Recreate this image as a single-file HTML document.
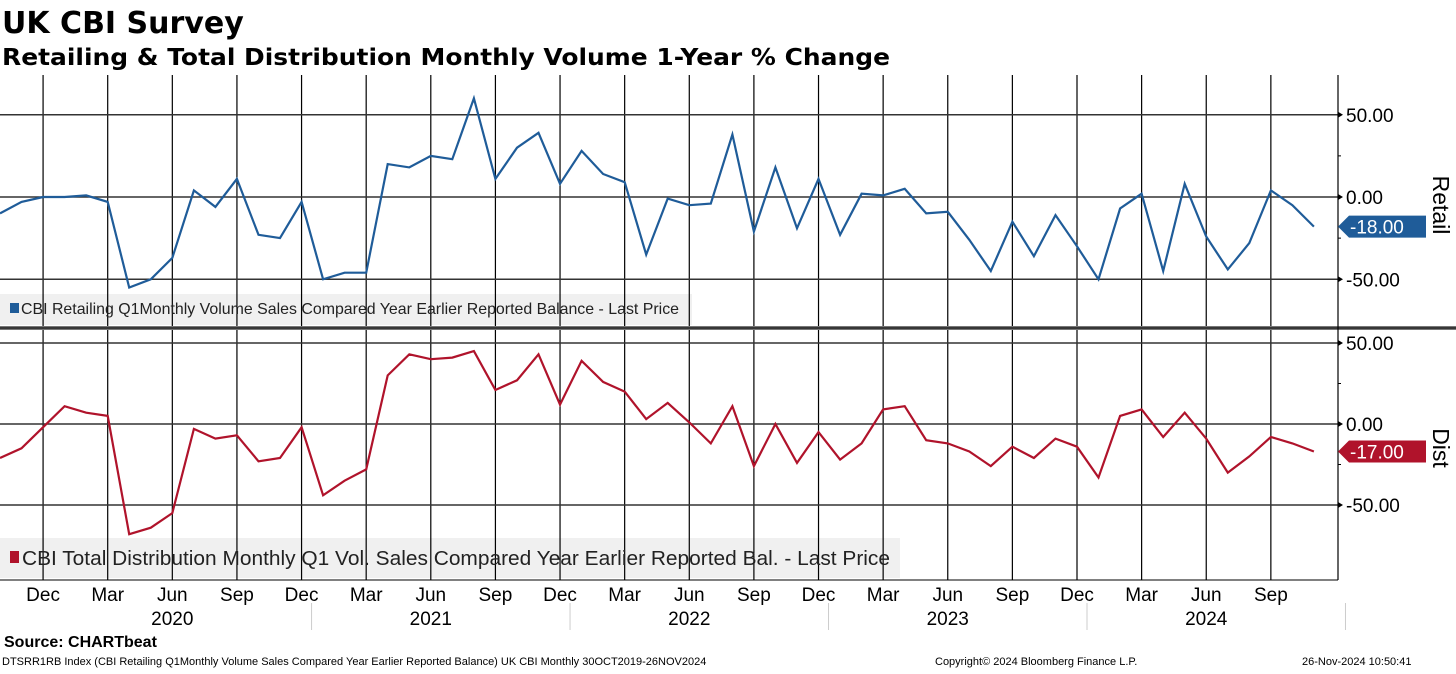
<!DOCTYPE html>
<html><head><meta charset="utf-8">
<style>
body{margin:0;background:#fff;width:1456px;height:669px;overflow:hidden;font-family:"Liberation Sans",sans-serif}
svg text{font-family:"Liberation Sans",sans-serif}
</style></head>
<body>
<svg id="chart" width="1456" height="669" viewBox="0 0 1456 669" xmlns="http://www.w3.org/2000/svg">
<text x="2" y="33" font-size="30" font-weight="bold" style="font-family:'DejaVu Sans',sans-serif">UK CBI Survey</text>
<text x="2" y="65" font-size="23" font-weight="bold" style="font-family:'DejaVu Sans',sans-serif" textLength="888" lengthAdjust="spacingAndGlyphs">Retailing &amp; Total Distribution Monthly Volume 1-Year % Change</text>
<g id="grid"></g>
<g id="series"></g>
<g id="axes"></g>
<text x="4" y="647" font-size="16" font-weight="bold">Source: CHARTbeat</text>
<text x="2" y="665" font-size="11">DTSRR1RB Index (CBI Retailing Q1Monthly Volume Sales Compared Year Earlier Reported Balance) UK CBI  Monthly 30OCT2019-26NOV2024</text>
<text x="935" y="665" font-size="11">Copyright© 2024 Bloomberg Finance L.P.</text>
<text x="1302" y="665" font-size="11">26-Nov-2024 10:50:41</text>
</svg>
<script>
const retail = [-10,-3,0,0,1,-3,-55,-50,-37,4,-6,11,-23,-25,-3,-50,-46,-46,20,18,25,23,60,11,30,39,8,28,14,9,-35,-1,-5,-4,38,-21,18,-19,11,-23,2,1,5,-10,-9,-26,-45,-15,-36,-11,-30,-50,-7,2,-45,8,-24,-44,-28,4,-5,-18];
const dist = [-21,-15,-2,11,7,5,-68,-64,-55,-3,-9,-7,-23,-21,-2,-44,-35,-28,30,43,40,41,45,21,27,43,12,39,26,20,3,13,1,-12,11,-26,0,-24,-5,-22,-12,9,11,-10,-12,-17,-26,-14,-21,-9,-14,-33,5,9,-8,7,-9,-30,-20,-8,-12,-17];
const yTicks = [50,0,-50];
const monthLabels = ["Dec","Mar","Jun","Sep","Dec","Mar","Jun","Sep","Dec","Mar","Jun","Sep","Dec","Mar","Jun","Sep","Dec","Mar","Jun","Sep"];
const yearLabels = ["2020","2021","2022","2023","2024"];
const retailLast = "-18.00";
const distLast = "-17.00";

const NS="http://www.w3.org/2000/svg";
function mk(tag,attrs,parent,txt){const e=document.createElementNS(NS,tag);for(const k in attrs)e.setAttribute(k,attrs[k]);if(txt!==undefined)e.textContent=txt;parent.appendChild(e);return e;}
const xStep=21.54;
const xs=i=>i*xStep;
const yTop=v=>197-v*1.645;
const yBot=v=>424-v*1.62;
const grid=document.getElementById('grid'),ser=document.getElementById('series'),ax=document.getElementById('axes');

let lg1=mk('rect',{x:0,y:294,width:692,height:31,fill:'#f0f0f0'},grid);


let lg2=mk('rect',{x:0,y:538,width:900,height:40,fill:'#f0f0f0'},grid);



monthLabels.forEach((m,k)=>{
  const i=2+k*3;const x=xs(i);
  let l=mk('line',{x1:x,y1:75,x2:x,y2:580,stroke:'#000','stroke-width':1.2},grid);
  
  
  let t=mk('text',{x:x,y:601,'font-size':19,'text-anchor':'middle'},ax,m);
  
  
});
yearLabels.forEach((y,k)=>{
  const cx=xs(2+k*12+6);
  let t=mk('text',{x:cx,y:625,'font-size':19,'text-anchor':'middle'},ax,y);
  
  
  const sx=xs(14+k*12)+10;
  let s=mk('line',{x1:sx,y1:603,x2:sx,y2:630,stroke:'#ccc','stroke-width':1},ax);
  
  
});
yTicks.forEach(v=>{
  [[yTop,'retail'],[yBot,'dist']].forEach(([f,n])=>{
    const y=f(v);
    let l=mk('line',{x1:0,y1:y,x2:1338,y2:y,stroke:'#333','stroke-width':1.5},grid);
    
    
    mk('path',{d:`M1338 ${y-3}L1343 ${y}L1338 ${y+3}Z`,fill:'#000'},ax);
    let t=mk('text',{x:1346,y:y+7,'font-size':19},ax,(v<0?'-':'')+Math.abs(v).toFixed(2));
    
    
  });
});
[25,-25].forEach(v=>{mk('line',{x1:1338,y1:yTop(v),x2:1341,y2:yTop(v),stroke:'#000'},ax);mk('line',{x1:1338,y1:yBot(v),x2:1341,y2:yBot(v),stroke:'#000'},ax);});
mk('rect',{x:0,y:326,width:1456,height:4,fill:'#777'},ax);
mk('line',{x1:0,y1:328,x2:1456,y2:328,stroke:'#222','stroke-width':1.5},ax);
mk('line',{x1:1338,y1:75,x2:1338,y2:580,stroke:'#000','stroke-width':1.2},ax);
mk('line',{x1:0,y1:580,x2:1338,y2:580,stroke:'#000','stroke-width':1},ax);

function line(data,f,color,name){
  const d=data.map((v,i)=>(i?'L':'M')+xs(i).toFixed(1)+' '+f(v).toFixed(1)).join('');
  const p=mk('path',{d:d,fill:'none',stroke:color,'stroke-width':2.2,'stroke-linejoin':'miter'},ser);
  
  
}
line(retail,yTop,'#1f5c99','retail-line');
line(dist,yBot,'#b0132b','dist-line');

function tag(v,f,color,txt,name){
  const y=f(v);
  const p=mk('path',{d:`M1338 ${y}L1349 ${y-11}L1426 ${y-11}L1426 ${y+11}L1349 ${y+11}Z`,fill:color},ax);
  
  
  let t=mk('text',{x:1350,y:y+7,'font-size':19,fill:'#fff'},ax,txt);
  
  
}
tag(retail[retail.length-1],yTop,'#1f5c99',retailLast,'retail-last-value-tag');
tag(dist[dist.length-1],yBot,'#b0132b',distLast,'dist-last-value-tag');

let r=mk('text',{x:1433,y:205,'font-size':23,'text-anchor':'middle',transform:'rotate(90 1433 205)'},ax,'Retail');


let d2=mk('text',{x:1433,y:448,'font-size':23,'text-anchor':'middle',transform:'rotate(90 1433 448)'},ax,'Dist');



mk('rect',{x:10,y:303,width:9,height:10,fill:'#1f5c99'},ax);
let l1=mk('text',{x:21,y:314,'font-size':16,fill:'#222',textLength:658,lengthAdjust:'spacingAndGlyphs'},ax,'CBI Retailing Q1Monthly Volume Sales Compared Year Earlier Reported Balance - Last Price');


mk('rect',{x:10,y:551,width:9,height:12,fill:'#b0132b'},ax);
let l2=mk('text',{x:22,y:565,'font-size':20,fill:'#222',textLength:868,lengthAdjust:'spacingAndGlyphs'},ax,'CBI Total Distribution Monthly Q1 Vol. Sales Compared Year Earlier Reported Bal. - Last Price');


</script>
</body></html>
